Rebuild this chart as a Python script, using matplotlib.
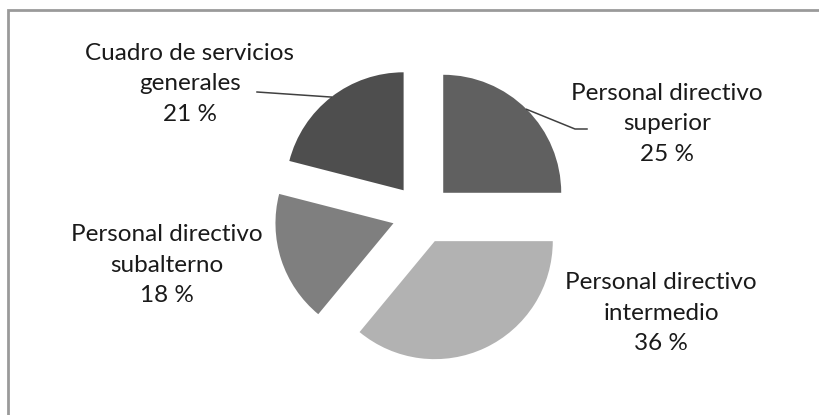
import math
import matplotlib
matplotlib.use("Agg")
import matplotlib.pyplot as plt
from matplotlib.patches import Rectangle

categories = ["Personal directivo\nsuperior", "Personal directivo\nintermedio",
              "Personal directivo\nsubalterno", "Cuadro de servicios\ngenerales"]
values = [25, 36, 18, 21]
pct_labels = ["25 %", "36 %", "18 %", "21 %"]
colors = ["#606060", "#b2b2b2", "#7f7f7f", "#4e4e4e"]

plt.rcParams['font.family'] = ['Lato', 'DejaVu Sans']

W, H = 820, 415
fig = plt.figure(figsize=(W / 100, H / 100), dpi=100)
fig.patch.set_facecolor("white")
ax = fig.add_axes([0, 0, 1, 1])

center = (422, H - 214)
radius = 118
expl = 30
wedges, _ = ax.pie(values, colors=colors, startangle=90, counterclock=False,
                   radius=radius, center=center, explode=[expl] * 4,
                   wedgeprops=dict(linewidth=0))
ax.set_xlim(0, W)
ax.set_ylim(0, H)
ax.set_aspect("equal")
ax.axis("off")

# label positions (center of text block, in pixels from top-left)
label_pos = [(667, 124), (661, 313), (167, 265), (190, 84)]
for i, (cat, pct) in enumerate(zip(categories, pct_labels)):
    x, y = label_pos[i]
    ax.text(x, H - y, cat + "\n" + pct, ha="center", va="center",
            fontsize=17.5, color="#1a1a1a", linespacing=1.55)

# leader lines from arc midpoints
def arc_mid(w):
    t = math.radians((w.theta1 + w.theta2) / 2)
    cx, cy = w.center
    return cx + w.r * math.cos(t), cy + w.r * math.sin(t)

sx, sy = arc_mid(wedges[0])
ax.plot([sx, 575, 587], [sy, H - 129, H - 129], color="#404040", lw=1.1)
cx_, cy_ = arc_mid(wedges[3])
ax.plot([cx_, 257], [cy_, H - 92], color="#404040", lw=1.1)

# outer frame
fig.patches.append(Rectangle((8 / W, -0.1), 1.2, (H - 10) / H + 0.1,
                             transform=fig.transFigure, fill=False,
                             edgecolor="#9a9a9a", linewidth=2))

fig.savefig("out.png", dpi=100)
